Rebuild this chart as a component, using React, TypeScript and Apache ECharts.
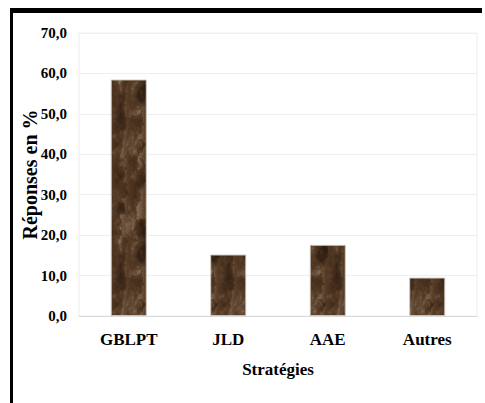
import React, { useEffect, useRef } from "react";
import * as echarts from "echarts";

const categories = ["GBLPT", "JLD", "AAE", "Autres"];
const values = [58.5, 15.2, 17.6, 9.5];
const yTickValues = [0, 10, 20, 30, 40, 50, 60, 70];
const yTickLabels = ["0,0", "10,0", "20,0", "30,0", "40,0", "50,0", "60,0", "70,0"];

function hash(ix: number, iy: number, seed: number): number {
  let h = (ix * 374761393 + iy * 668265263 + seed * 982451653) | 0;
  h = ((h ^ (h >>> 13)) * 1274126177) | 0;
  h = h ^ (h >>> 16);
  return (h >>> 0) / 4294967295;
}

function vnoise(x: number, y: number, px: number, py: number, seed: number): number {
  const x0 = Math.floor(x);
  const y0 = Math.floor(y);
  const fx = x - x0;
  const fy = y - y0;
  const sx = fx * fx * (3 - 2 * fx);
  const sy = fy * fy * (3 - 2 * fy);
  const m = (a: number, p: number) => ((a % p) + p) % p;
  const a = hash(m(x0, px), m(y0, py), seed);
  const b = hash(m(x0 + 1, px), m(y0, py), seed);
  const c = hash(m(x0, px), m(y0 + 1, py), seed);
  const d = hash(m(x0 + 1, px), m(y0 + 1, py), seed);
  return a + (b - a) * sx + (c - a) * sy + (a - b - c + d) * sx * sy;
}

function lerp(a: number, b: number, t: number) {
  return a + (b - a) * t;
}

function makeTexture(w: number, h: number): HTMLCanvasElement {
  const c = document.createElement("canvas");
  c.width = w;
  c.height = h;
  const ctx = c.getContext("2d")!;
  const img = ctx.createImageData(w, h);
  const dark = [46, 29, 17];
  const mid = [86, 60, 38];
  const light = [140, 118, 98];
  for (let y = 0; y < h; y++) {
    for (let x = 0; x < w; x++) {
      let n = 0;
      let amp = 0.5;
      let tot = 0;
      for (let o = 0; o < 5; o++) {
        const cx = 3 * Math.pow(2, o);
        const cy = 10 * Math.pow(2, o);
        n += amp * vnoise((x / w) * cx, (y / h) * cy, cx, cy, o + 11);
        tot += amp;
        amp *= 0.6;
      }
      n /= tot;
      const vein = 1 - Math.abs(Math.sin(n * 6 + (x / w) * 2 * Math.PI));
      let t = 0.85 * n + 0.15 * Math.pow(vein, 2);
      t = Math.max(0, Math.min(1, (t - 0.22) / 0.58));
      const col =
        t < 0.55
          ? [0, 1, 2].map((j) => lerp(dark[j], mid[j], t / 0.55))
          : [0, 1, 2].map((j) => lerp(mid[j], light[j], (t - 0.55) / 0.45));
      const i = (y * w + x) * 4;
      img.data[i] = col[0];
      img.data[i + 1] = col[1];
      img.data[i + 2] = col[2];
      img.data[i + 3] = 255;
    }
  }
  ctx.putImageData(img, 0, 0);
  return c;
}

export default function App() {
  const ref = useRef<HTMLDivElement>(null);
  useEffect(() => {
    if (!ref.current) return;
    const chart = echarts.init(ref.current, undefined, { renderer: "svg" });
    const TW = 36;
    const TH = 160;
    const tex = makeTexture(TW, TH);
    const font = "Liberation Serif, serif";
    chart.setOption({
      animation: false,
      backgroundColor: "#ffffff",
      grid: {
        left: 79,
        right: 8,
        top: 33,
        bottom: 87,
        show: true,
        borderColor: "#eeeeee",
        borderWidth: 1,
      },
      xAxis: {
        type: "category",
        data: categories,
        name: "Stratégies",
        nameLocation: "middle",
        nameGap: 45,
        nameMoveOverlap: false,
        nameTextStyle: { fontFamily: font, fontWeight: "bold", fontSize: 17, color: "#000" },
        axisLine: { show: true, lineStyle: { color: "#d9d9d9", width: 1 } },
        axisTick: { show: false },
        axisLabel: {
          margin: 15,
          fontFamily: font,
          fontWeight: "bold",
          fontSize: 17,
          color: "#000",
        },
      },
      yAxis: {
        type: "value",
        min: 0,
        max: 70,
        interval: 10,
        name: "Réponses en %",
        nameLocation: "middle",
        nameGap: 39,
        nameMoveOverlap: false,
        nameRotate: 90,
        nameTextStyle: { fontFamily: font, fontWeight: "bold", fontSize: 20, color: "#000" },
        axisLine: { show: false },
        axisTick: { show: false },
        splitLine: { show: true, lineStyle: { color: "#eeeeee", width: 1 } },
        axisLabel: {
          margin: 12,
          fontFamily: font,
          fontWeight: "bold",
          fontSize: 15,
          color: "#000",
          formatter: (v: number) => {
            const idx = yTickValues.indexOf(v);
            return idx >= 0 ? yTickLabels[idx] : String(v);
          },
        },
      },
      series: [
        {
          type: "bar",
          data: values,
          barWidth: 36,
          itemStyle: {
            color: { image: tex, repeat: "repeat", imageWidth: TW, imageHeight: TH } as any,
            borderColor: "rgba(205,198,190,0.9)",
            borderWidth: 1,
          },
        },
      ],
      graphic: [
        { type: "rect", shape: { x: 10, y: 8, width: 472, height: 5 }, style: { fill: "#000" }, silent: true },
        { type: "rect", shape: { x: 10, y: 8, width: 3, height: 395 }, style: { fill: "#000" }, silent: true },
      ],
    });
    return () => chart.dispose();
  }, []);
  return (
    <div
      ref={ref}
      style={{ position: "fixed", left: 0, top: 0, width: 485, height: 403, background: "#fff" }}
    />
  );
}
